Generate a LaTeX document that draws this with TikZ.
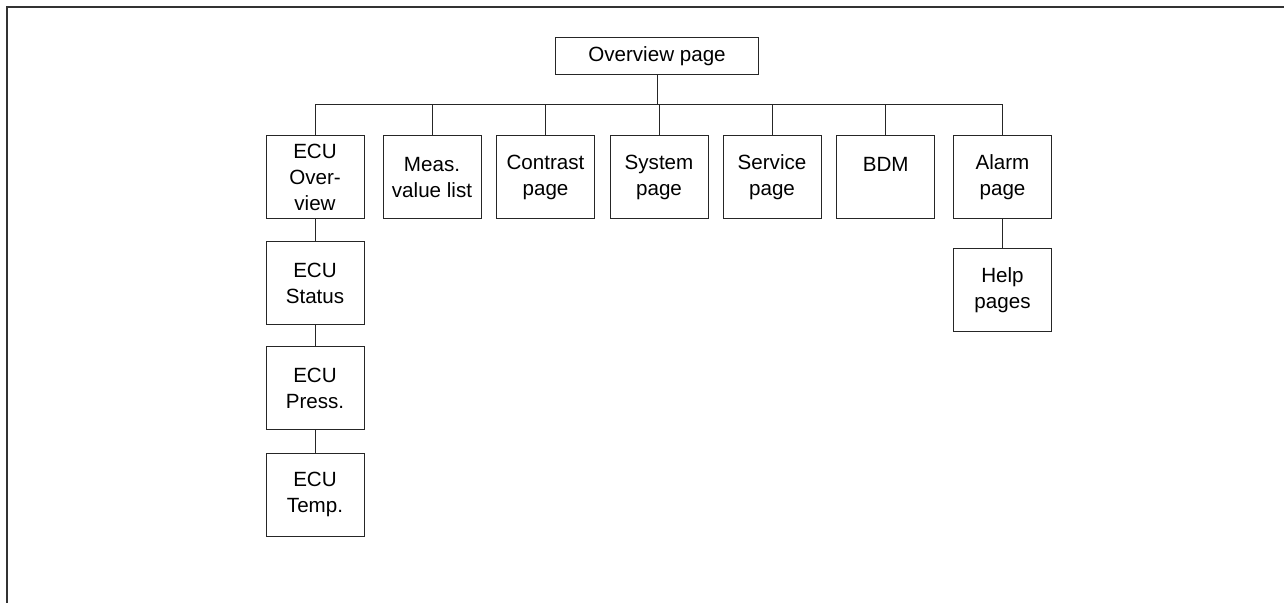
\documentclass[tikz,border=0pt]{standalone}
\usepackage{fontspec}
\setmainfont{Liberation Sans}
\usepackage{tikz}
\usetikzlibrary{positioning}

\tikzset{
  pagebox/.style={draw=black!85,line width=0.5pt,minimum width=49pt,minimum height=41.5pt,
    inner sep=0pt,align=center,font=\fontsize{10.3}{13}\selectfont},
  link/.style={draw=black!85,line width=0.5pt}
}

\begin{document}
\begin{tikzpicture}[x=0.5pt,y=-0.5pt]
\useasboundingbox (0,0) rectangle (1284,603);
% outer frame, top and left only
\draw[line width=1pt,black!80] (1284,7) -- (7,7) -- (7,603);

\node[pagebox,minimum width=101.5pt,minimum height=18.5pt] (ovw) at (657,56.5) {Overview page};
\coordinate (bus) at (657,105);

\node[pagebox] (ecuovw) at (315,177.5) {ECU\\Over-\\view};
\node[pagebox] (meas) at (432,177.5) {Meas.\\value list};
\node[pagebox] (contrast) at (545.5,177.5) {Contrast\\page};
\node[pagebox] (sys) at (659,177.5) {System\\page};
\node[pagebox] (service) at (772,177.5) {Service\\page};
\node[pagebox] (bdm) at (885.7,177.5) {BDM\\~};
\node[pagebox] (alarm) at (1002.5,177.5) {Alarm\\page};

\node[pagebox] (status) at (315,283) {ECU\\Status};
\node[pagebox] (press) at (315,388.5) {ECU\\Press.};
\node[pagebox] (temp) at (315,494.7) {ECU\\Temp.};
\node[pagebox] (help) at (1002.5,290.5) {Help\\pages};

% tree
\draw[link] (ovw.south) -- (ovw.south |- bus);
\draw[link] (ecuovw.north) -- (ecuovw.north |- bus) -- (alarm.north |- bus) -- (alarm.north);
\foreach \n in {meas,contrast,sys,service,bdm}
  \draw[link] (\n.north) -- (\n.north |- bus);
\draw[link] (ecuovw) -- (status);
\draw[link] (status) -- (press);
\draw[link] (press) -- (temp);
\draw[link] (alarm) -- (help);
\end{tikzpicture}
\end{document}
